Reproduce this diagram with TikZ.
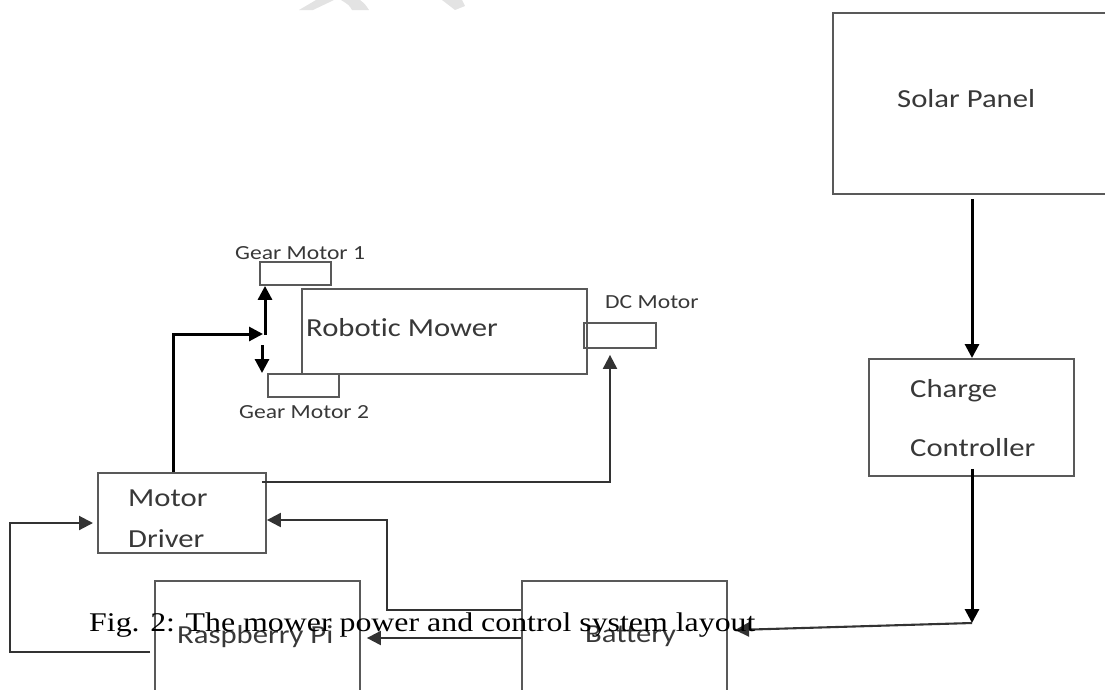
\documentclass[tikz,border=0pt]{standalone}
\usepackage{fontspec}
\usepackage{graphicx}
\setmainfont{Carlito}[Ligatures=NoCommon]
\newfontfamily\capfont{Liberation Serif}
\usetikzlibrary{arrows.meta,calc}
\newcommand{\hs}[1]{\scalebox{1.18}[1]{#1}}
\tikzset{
  box/.style={draw=black!65, line width=1.9pt, rectangle, inner sep=0pt, anchor=north west},
  lbl/.style={inner sep=0pt, anchor=base west, text=black!78, font=\fontsize{26}{30}\selectfont},
  small/.style={inner sep=0pt, anchor=base west, text=black!78, font=\fontsize{20}{24}\selectfont},
  wire/.style={draw=black!80, line width=2.1pt},
  heavy/.style={draw=black, line width=3pt},
  tip/.style={-{Triangle[length=14pt,width=14pt]}},
}
\begin{document}
\begin{tikzpicture}[x=1pt,y=-1pt]
\useasboundingbox (0,0) rectangle (1105,689);
% faint watermark fragment
\fill[gray!22] (316,0) -- (334,0) -- (313,10) -- (299,10) -- cycle;
\fill[gray!22] (341,0) -- (360,0) .. controls (365,4) .. (369,10) -- (352,10) .. controls (349,5) .. cycle;
\fill[gray!22] (442,0) -- (462,0) -- (465,6) -- (455,10) -- cycle;
% boxes
\node[box, minimum width=276pt, minimum height=181pt] (solar) at (832,12) {};
\node[box, minimum width=205pt, minimum height=117pt] (charge) at (868,358) {};
\node[box, minimum width=285pt, minimum height=85pt] (mower) at (301,288) {};
\node[box, minimum width=71pt, minimum height=23pt] (gm1) at (259,261) {};
\node[box, minimum width=71pt, minimum height=23pt] (gm2) at (267,373) {};
\node[box, minimum width=72pt, minimum height=25pt] (dcm) at (583,322) {};
\node[box, minimum width=168pt, minimum height=80pt] (md) at (97,472) {};
\node[box, minimum width=205pt, minimum height=125pt] (rasp) at (154,580) {};
\node[box, minimum width=205pt, minimum height=125pt] (batt) at (521,580) {};
% labels
\node[lbl] (tsolar) at (897,107) {\hs{Solar Panel}};
\node[lbl] (tcharge) at (910,397) {\hs{Charge}};
\node[lbl] (tcontr) at (910,456) {\hs{Controller}};
\node[lbl] (tmower) at (306,336) {\hs{Robotic Mower}};
\node[small] (tgm1) at (235,259) {\hs{Gear Motor 1}};
\node[small] (tgm2) at (239,418) {\hs{Gear Motor 2}};
\node[small] (tdcm) at (605,308) {\hs{DC Motor}};
\node[lbl] (tmotor) at (128,506) {\hs{Motor}};
\node[lbl] (tdriver) at (128,547) {\hs{Driver}};
\node[lbl] (trasp) at (177,643) {\hs{Raspberry Pi}};
\node[lbl] (tbatt) at (585,642) {\hs{Battery}};
% bend points
\coordinate (sc) at (972,199);
\coordinate (cb) at (972,623);
\coordinate (bt) at (735,630);
\coordinate (bm) at (387,610);
\coordinate (mj) at (387,520);
\coordinate (rl) at (10,652);
\coordinate (rt) at (10,523);
\coordinate (gj) at (173,334);
\coordinate (dj) at (610,482);
% connectors
\draw[heavy, tip] (sc) -- (sc |- charge.north);
\draw[heavy, tip] ($(charge.south -| cb)+(0,-8)$) -- (cb);
\draw[wire, tip] (cb) -- (bt);
\draw[wire, tip] (batt.west |- 0,638) -- ($(rasp.east |- 0,638)+(6,0)$);
\draw[wire, tip] (batt.west |- bm) -- (bm) -- (mj) -- (md.east |- mj);
\draw[wire, tip] ($(rasp.west |- rl)+(-4,0)$) -- (rl) -- (rt) -- ($(md.west |- rt)+(-4,0)$);
\draw[heavy, tip] (md.north -| gj) -- (gj) -- (263,334);
\draw[heavy, tip] (265,335) -- (265,0 |- gm1.south);
\draw[heavy, tip] (262,345) -- (262,0 |- gm2.north);
\draw[wire, tip] ($(md.east |- dj)+(-5,0)$) -- (dj) -- ($(dj |- dcm.south)+(0,6)$);
% caption
\node[inner sep=0pt, anchor=base west, font=\capfont\fontsize{27}{30}\selectfont] (cap) at (89,631) {\hs{Fig. 2: The mower power and control system layout}};
\end{tikzpicture}
\end{document}
